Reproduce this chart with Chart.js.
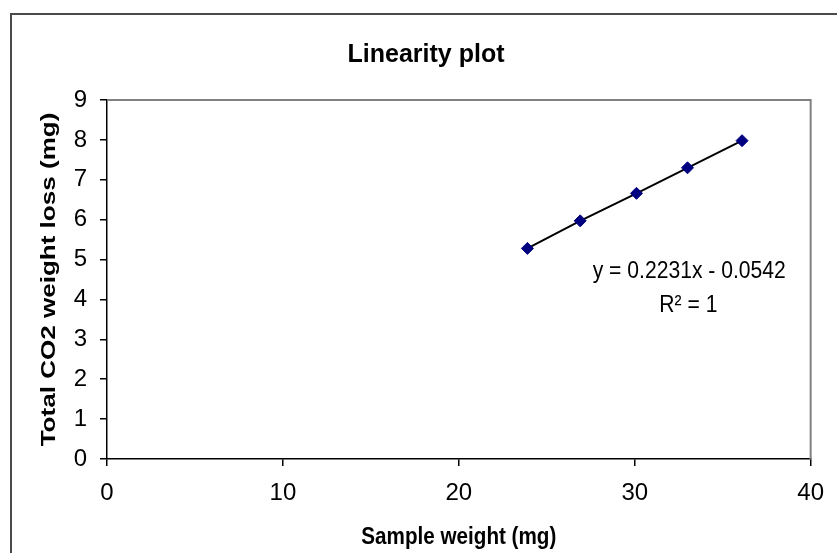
<!DOCTYPE html>
<html>
<head>
<meta charset="utf-8">
<script src="https://cdn.jsdelivr.net/npm/chart.js@4"></script>
<style>
  html, body { margin: 0; padding: 0; background: #fff; overflow: hidden; }
  #wrap { position: relative; width: 837px; height: 553px; }
  #frame { position: absolute; left: 10px; top: 13px; width: 900px; height: 600px; border: 2px solid #4a4a4a; }
  #chart { position: absolute; left: 0; top: 0; }
</style>
</head>
<body>
<div id="wrap">
  <div id="frame"></div>
  <canvas id="chart" width="837" height="553"></canvas>
</div>
<script>
// --- data ---
const sampleWeight = [23.9, 26.9, 30.1, 33.0, 36.1];   // mg
const co2Loss      = [5.28, 5.97, 6.66, 7.30, 7.98];   // mg
const xTicks = [0, 10, 20, 30, 40];
const yTicks = [0, 1, 2, 3, 4, 5, 6, 7, 8, 9];

const chartTitle = 'Linearity plot';
const xTitle = 'Sample weight (mg)';
const yTitle = 'Total CO2 weight loss (mg)';
const equation = 'y = 0.2231x - 0.0542';
const rSquared = 'R\u00B2 = 1';

const FONT = "'Liberation Sans', Arial, sans-serif";

// the source picture is stretched a bit vertically, so text gets squeezed/stretched here
function drawText(ctx, text, x, y, font, sx, sy, rot) {
    ctx.save();
    ctx.translate(x, y);
    if (rot) ctx.rotate(rot);
    ctx.scale(sx, sy);
    ctx.font = font;
    ctx.fillText(text, 0, 0);
    ctx.restore();
}

// titles, trendline label and grey plot frame (top + right, like Excel)
const excelBits = {
    id: 'excelBits',
    beforeDatasetsDraw(chart) {
        const { ctx, chartArea: a } = chart;
        ctx.save();
        ctx.strokeStyle = '#808080';
        ctx.lineWidth = 2;
        ctx.beginPath();
        ctx.moveTo(a.left, a.top);
        ctx.lineTo(a.right, a.top);
        ctx.lineTo(a.right, a.bottom);
        ctx.stroke();
        ctx.restore();
    },
    afterDraw(chart) {
        const { ctx, chartArea: a, scales: { x, y } } = chart;
        ctx.save();
        ctx.fillStyle = '#000';
        ctx.textAlign = 'center';
        ctx.textBaseline = 'alphabetic';

        drawText(ctx, chartTitle, 426, 62, 'bold 25px ' + FONT, 1, 1);
        drawText(ctx, xTitle, (a.left + a.right) / 2, 544, 'bold 24px ' + FONT, 0.86, 1);
        drawText(ctx, yTitle, 55, (a.top + a.bottom) / 2, 'bold 21px ' + FONT, 1.24, 1, -Math.PI / 2);

        // trendline label, anchored on the axes
        drawText(ctx, equation, x.getPixelForValue(33.1), y.getPixelForValue(4.55), '24px ' + FONT, 0.88, 1);
        drawText(ctx, rSquared, x.getPixelForValue(33.05), y.getPixelForValue(3.68), '24px ' + FONT, 0.88, 1);
        ctx.restore();
    }
};

new Chart(document.getElementById('chart'), {
    type: 'scatter',
    data: {
        datasets: [{
            label: 'CO2 loss',
            data: sampleWeight.map((w, i) => ({ x: w, y: co2Loss[i] })),
            showLine: true,
            borderColor: '#000',
            borderWidth: 2,
            pointStyle: 'rectRot',
            pointRadius: 6,
            pointHoverRadius: 6,
            pointBackgroundColor: '#000080',
            pointBorderColor: '#000080',
            pointBorderWidth: 1
        }]
    },
    plugins: [excelBits],
    options: {
        responsive: false,
        animation: false,
        layout: { padding: { top: 100, right: 26, left: 0, bottom: 0 } },
        plugins: {
            legend: { display: false },
            title: { display: false },
            tooltip: { enabled: false }
        },
        scales: {
            x: {
                type: 'linear',
                min: 0, max: 40,
                afterBuildTicks: s => { s.ticks = xTicks.map(v => ({ value: v })); },
                afterFit: s => { s.height = 94; },
                grid: { drawOnChartArea: false, color: '#000', tickLength: 7, lineWidth: 1.5 },
                border: { color: '#000', width: 1.5 },
                ticks: { color: '#000', padding: 13, font: { family: FONT, size: 24 }, maxRotation: 0 }
            },
            y: {
                type: 'linear',
                min: 0, max: 9,
                afterBuildTicks: s => { s.ticks = yTicks.map(v => ({ value: v })); },
                afterFit: s => { s.width = 107; },
                grid: { drawOnChartArea: false, color: '#000', tickLength: 7, lineWidth: 1.5 },
                border: { color: '#000', width: 1.5 },
                ticks: { color: '#000', padding: 13, font: { family: FONT, size: 24 } },
                title: { display: false }
            }
        }
    }
});
</script>
</body>
</html>
